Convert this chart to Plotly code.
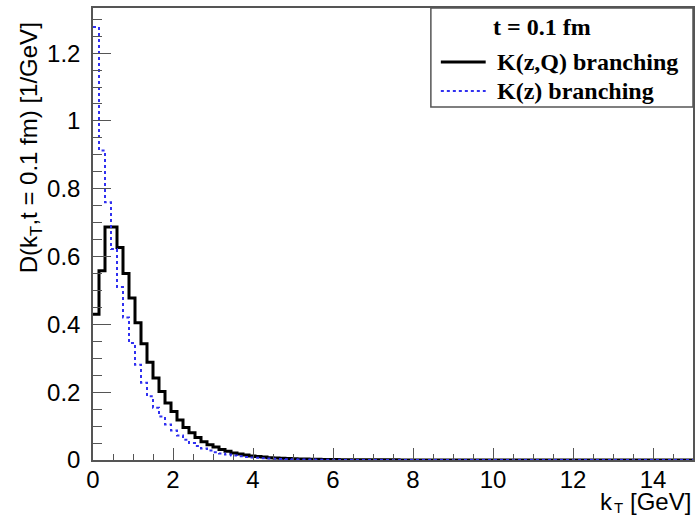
import plotly.graph_objects as go

# kT binning: 100 bins of 0.15 GeV between 0 and 15 GeV
bin_width = 0.15
n_bins = 100

# D(kT, t = 0.1 fm) with the K(z,Q) branching kernel (first bins, rest empty)
kzq_values = [
    0.430, 0.558, 0.687, 0.687, 0.627, 0.550, 0.478, 0.405, 0.343, 0.288,
    0.242, 0.202, 0.168, 0.143, 0.118, 0.096, 0.080, 0.066, 0.054, 0.045,
    0.038, 0.031, 0.026, 0.021, 0.018, 0.015, 0.012, 0.010, 0.0085, 0.0070,
    0.0060, 0.0050, 0.0042, 0.0036, 0.0030, 0.0026, 0.0022, 0.0019, 0.0016, 0.0014,
    0.0012, 0.0011, 0.0010, 0.0009, 0.0008, 0.0007, 0.0006, 0.0005, 0.0005, 0.0004,
    0.0004, 0.0003,
]

# D(kT, t = 0.1 fm) with the K(z) branching kernel
kz_values = [
    1.277, 0.913, 0.760, 0.622, 0.510, 0.420, 0.345, 0.281, 0.228, 0.188,
    0.154, 0.128, 0.105, 0.087, 0.072, 0.060, 0.050, 0.041, 0.034, 0.028,
    0.023, 0.019, 0.016, 0.013, 0.011, 0.009, 0.0075, 0.0063, 0.0052, 0.0043,
    0.0036, 0.0030, 0.0025, 0.0020, 0.0017, 0.0014, 0.0012, 0.0010, 0.0008, 0.0007,
    0.0005,
]

x_ticks = [0, 2, 4, 6, 8, 10, 12, 14]
y_ticks = [0, 0.2, 0.4, 0.6, 0.8, 1.0, 1.2]

legend_header = "t = 0.1 fm"
legend_labels = ["K(z,Q) branching", "K(z) branching"]


def step_outline(values):
    full = list(values) + [0.0] * (n_bins - len(values))
    edges = [i * bin_width for i in range(n_bins + 1)]
    return edges, full + [full[-1]]


W, H = 697, 516
ML, MR, MT, MB = 93, 2, 8, 56

fig = go.Figure()

xb, yb = step_outline(kzq_values)
fig.add_trace(go.Scatter(x=xb, y=yb, mode="lines", line_shape="hv",
                         line=dict(color="black", width=3), name=legend_labels[0],
                         showlegend=False))
xz, yz = step_outline(kz_values)
fig.add_trace(go.Scatter(x=xz, y=yz, mode="lines", line_shape="hv",
                         line=dict(color="#3030f0", width=2, dash="dot"),
                         name=legend_labels[1], showlegend=False))

tick_font = dict(family="Liberation Sans, Arial, sans-serif", size=24, color="black")
sub_font = dict(family="Liberation Sans, Arial, sans-serif", size=15, color="black")
axis_col = "#555555"

fig.update_xaxes(
    range=[0, 15], tickvals=x_ticks, ticks="inside", ticklen=12, tickwidth=1,
    tickcolor=axis_col, showline=True, linecolor=axis_col, linewidth=1.5,
    mirror=True, showgrid=False, zeroline=False, tickfont=tick_font,
    ticklabelstandoff=-3,
    minor=dict(dtick=0.5, ticks="inside", ticklen=6, tickcolor=axis_col),
)
fig.update_yaxes(
    range=[0, 1.333], tickvals=y_ticks, ticktext=["0", "0.2", "0.4", "0.6", "0.8", "1", "1.2"],
    ticks="inside", ticklen=18, tickwidth=1,
    tickcolor=axis_col, showline=True, linecolor=axis_col, linewidth=1.5,
    mirror=True, showgrid=False, zeroline=False, tickfont=tick_font,
    ticklabelstandoff=6,
    minor=dict(dtick=0.05, ticks="inside", ticklen=9, tickcolor=axis_col),
)


def px_x(p):
    return (p - ML) / (W - ML - MR)


def px_y(p):
    return 1 - (p - MT) / (H - MT - MB)


annotations = [
    dict(text="D(k<sub>T</sub>,t = 0.1 fm) [1/GeV]", textangle=-90,
         x=px_x(30), y=px_y(148), xanchor="center", yanchor="middle",
         font=tick_font),
    # x-axis title, right-aligned under the axis end: "k", subscript "T", "[GeV]"
    dict(text="[GeV]", x=px_x(694), y=px_y(501),
         xanchor="right", yanchor="middle", font=tick_font),
    dict(text="k", x=px_x(616), y=px_y(501),
         xanchor="right", yanchor="middle", font=tick_font),
    dict(text="T", x=px_x(615), y=px_y(507),
         xanchor="left", yanchor="middle", font=sub_font),
]

legend_font = dict(family="Liberation Serif, Times New Roman, serif", size=24, color="black")
annotations.append(dict(text="<b>%s</b>" % legend_header, x=px_x(543), y=px_y(27),
                        xanchor="center", yanchor="middle", font=legend_font))
for lab, yy in zip(legend_labels, [62, 91]):
    annotations.append(dict(text="<b>%s</b>" % lab, x=px_x(497), y=px_y(yy),
                            xanchor="left", yanchor="middle", font=legend_font))
for a in annotations:
    a.update(xref="paper", yref="paper", showarrow=False, borderpad=0)

shapes = [
    # legend box
    dict(type="rect", xref="paper", yref="paper", x0=px_x(432), x1=px_x(695),
         y0=px_y(107), y1=px_y(8), line=dict(color=axis_col, width=1.5),
         fillcolor="white", layer="below"),
    dict(type="line", xref="paper", yref="paper", x0=px_x(442), x1=px_x(487),
         y0=px_y(62), y1=px_y(62), line=dict(color="black", width=3)),
    dict(type="line", xref="paper", yref="paper", x0=px_x(442), x1=px_x(487),
         y0=px_y(91), y1=px_y(91), line=dict(color="#3030f0", width=2, dash="dot")),
]

fig.update_layout(
    width=W, height=H, margin=dict(l=ML, r=MR, t=MT, b=MB),
    paper_bgcolor="white", plot_bgcolor="white",
    annotations=annotations, shapes=shapes, showlegend=False,
)

fig.write_html("out.html")
